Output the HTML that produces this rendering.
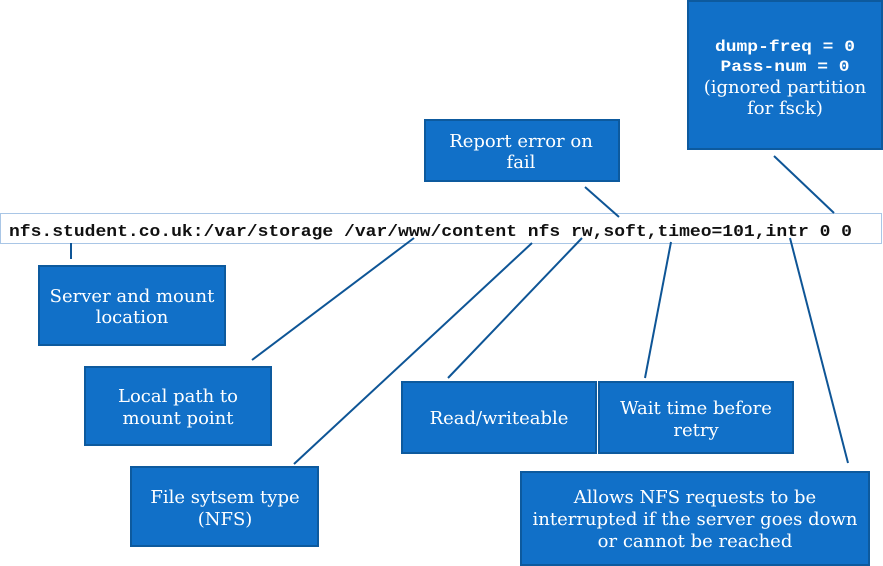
<!DOCTYPE html>
<html><head><style>body{margin:0;background:#fff}</style></head><body>
<svg width="883" height="566" xmlns="http://www.w3.org/2000/svg" style="display:block">
<rect x="0.5" y="213.5" width="881" height="30" fill="#fff" stroke="#a9c6e6" stroke-width="1"/>
<text x="9" y="236" font-family="Liberation Mono, monospace" font-weight="bold" font-size="17" fill="#111" textLength="843" lengthAdjust="spacingAndGlyphs">nfs.student.co.uk:/var/storage /var/www/content nfs rw,soft,timeo=101,intr 0 0</text>
<g stroke="#0e5596" stroke-width="2" fill="none">
<line x1="71" y1="243" x2="71" y2="259"/>
<line x1="414" y1="238" x2="252" y2="360"/>
<line x1="532" y1="243" x2="294" y2="464"/>
<line x1="582" y1="238" x2="448" y2="378"/>
<line x1="671" y1="242" x2="645" y2="378"/>
<line x1="790" y1="238" x2="848" y2="463"/>
<line x1="585" y1="187" x2="619" y2="217"/>
<line x1="774" y1="156" x2="834" y2="213"/>
</g>
<g fill="#1170c8" stroke="#0d5a9e" stroke-width="2">
<rect x="39" y="266" width="186" height="79"/>
<rect x="85" y="367" width="186" height="78"/>
<rect x="131" y="467" width="187" height="79"/>
<rect x="402" y="382" width="194" height="71"/>
<rect x="599" y="382" width="194" height="71"/>
<rect x="521" y="472" width="348" height="93"/>
<rect x="425" y="120" width="194" height="61"/>
<rect x="688" y="1" width="194" height="148"/>
</g>
<g fill="#fff" font-family="DejaVu Serif, serif" font-size="18" text-anchor="middle">
<text x="132" y="302">Server and mount</text><text x="132" y="323">location</text>
<text x="178" y="402">Local path to</text><text x="178" y="424">mount point</text>
<text x="225" y="503">File sytsem type</text><text x="225" y="525">(NFS)</text>
<text x="499" y="424">Read/writeable</text>
<text x="696" y="414">Wait time before</text><text x="696" y="436">retry</text>
<text x="695" y="503">Allows NFS requests to be</text><text x="695" y="525">interrupted if the server goes down</text><text x="695" y="547">or cannot be reached</text>
<text x="521" y="147">Report error on</text><text x="521" y="168">fail</text>
<text x="785" y="93">(ignored partition</text><text x="785" y="114">for fsck)</text>
<text x="785" y="51" font-family="Liberation Mono, monospace" font-weight="bold" font-size="16" textLength="140" lengthAdjust="spacingAndGlyphs">dump-freq = 0</text>
<text x="785" y="71" font-family="Liberation Mono, monospace" font-weight="bold" font-size="16" textLength="129" lengthAdjust="spacingAndGlyphs">Pass-num = 0</text>
</g>
</svg>
</body></html>
